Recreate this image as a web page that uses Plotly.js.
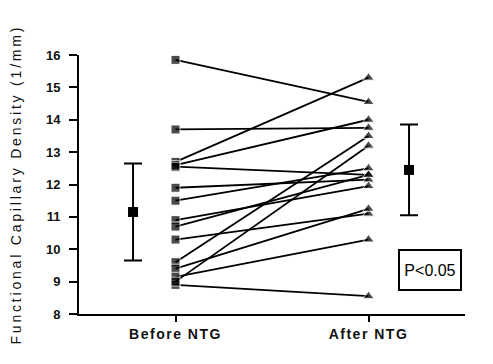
<!DOCTYPE html>
<html>
<head>
<meta charset="utf-8">
<script src="https://cdn.plot.ly/plotly-3.0.1.min.js"></script>
<style>
html,body{margin:0;padding:0;background:#fff;}
#chart{width:493px;height:364px;}
.annotation[data-index="0"] text{letter-spacing:2.8px;}
.xtick text{letter-spacing:1.5px;}
</style>
</head>
<body>
<div id="chart"></div>
<script>
// Category labels
var groupLabels = ["Before NTG", "After NTG"];
var yTicks = [8, 9, 10, 11, 12, 13, 14, 15, 16];

// Individual subjects: functional capillary density (1/mm)
var beforeValues = [15.85, 13.7, 12.7, 12.6, 12.55, 11.9, 11.5, 10.9, 10.7, 10.3, 9.6, 9.4, 9.15, 8.9, 9.0];
var afterValues  = [14.55, 13.75, 15.3, 14.0, 12.3, 12.15, 12.5, 11.95, 12.3, 11.1, 13.5, 11.25, 10.3, 8.55, 13.2];

// Group summary (mean +/- SD)
var beforeMean = 11.15, beforeSD = 1.5;
var afterMean = 12.45, afterSD = 1.4;

var xBefore = 1, xAfter = 2;
var xBeforeSummary = 0.78, xAfterSummary = 2.21;

var traces = [];
for (var i = 0; i < beforeValues.length; i++) {
  traces.push({
    x: [xBefore, xAfter],
    y: [beforeValues[i], afterValues[i]],
    mode: 'lines+markers',
    type: 'scatter',
    line: {color: '#000', width: 1.8},
    marker: {color: '#000', size: [9, 10], symbol: ['square', 'triangle-up']},
    cliponaxis: false,
    showlegend: false,
    hoverinfo: 'skip'
  });
}
traces.push({
  x: [xBeforeSummary], y: [beforeMean], type: 'scatter', mode: 'markers',
  marker: {color: '#000', size: 10, symbol: 'square'},
  error_y: {type: 'constant', value: beforeSD, color: '#000', thickness: 2, width: 9},
  showlegend: false, cliponaxis: false
});
traces.push({
  x: [xAfterSummary], y: [afterMean], type: 'scatter', mode: 'markers',
  marker: {color: '#000', size: 10, symbol: 'square'},
  error_y: {type: 'constant', value: afterSD, color: '#000', thickness: 2, width: 9},
  showlegend: false, cliponaxis: false
});

var layout = {
  width: 493, height: 364,
  margin: {l: 79, r: 28, t: 55, b: 50},
  paper_bgcolor: '#fff', plot_bgcolor: '#fff',
  showlegend: false,
  font: {family: 'Liberation Sans, Arial, sans-serif', color: '#000'},
  xaxis: {
    range: [0.5, 2.5], tickmode: 'array', tickvals: [xBefore, xAfter], ticktext: groupLabels,
    showgrid: false, zeroline: false, showline: true, linecolor: '#000', linewidth: 2,
    ticks: 'outside', ticklen: 6, tickwidth: 2, tickcolor: '#000',
    tickfont: {size: 14, weight: 'bold', color: '#111'}, fixedrange: true
  },
  yaxis: {
    range: [8, 16], tickmode: 'array', tickvals: yTicks,
    showgrid: false, zeroline: false, showline: true, linecolor: '#000', linewidth: 2,
    ticks: 'outside', ticklen: 8, tickwidth: 2, tickcolor: '#000',
    tickfont: {size: 13, weight: 'bold', color: '#111'}, ticklabelstandoff: 6, fixedrange: true
  },
  annotations: [
    {
      text: 'Functional Capillary Density (1/mm)', textangle: -90,
      xref: 'paper', yref: 'paper', x: 0, y: 0.5, xanchor: 'center', yanchor: 'middle',
      xshift: -64, showarrow: false, font: {size: 14, color: '#111'}
    },
    {
      text: 'P&lt;0.05', xref: 'x', yref: 'y', x: 2.32, y: 9.35,
      showarrow: false, font: {size: 16, color: '#000'},
      bordercolor: '#000', borderwidth: 2, borderpad: 3, width: 54, height: 32, bgcolor: '#fff'
    }
  ]
};

Plotly.newPlot('chart', traces, layout, {staticPlot: true, displayModeBar: false});
</script>
</body>
</html>
